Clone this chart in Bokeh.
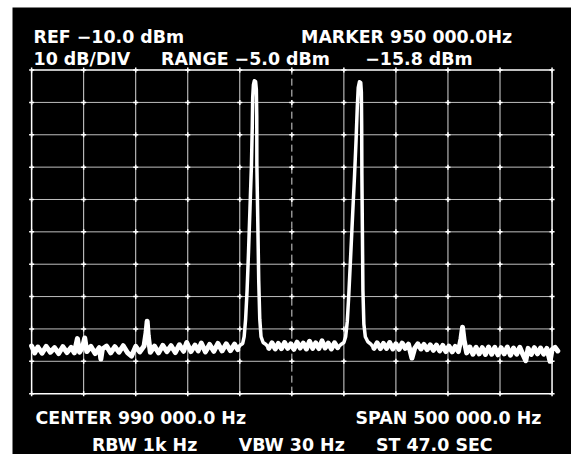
from bokeh.plotting import figure
from bokeh.embed import file_html
from bokeh.resources import INLINE
from bokeh.core.properties import value

# ---------------- data ----------------
# frequency axis: CENTER 990 kHz, SPAN 500 kHz -> 740 .. 1240 kHz, 10 divisions
grid_khz = [740, 790, 840, 890, 940, 990, 1040, 1090, 1140, 1190, 1240]
# level axis: REF -10 dBm, 10 dB/DIV, 10 divisions
grid_dbm = [-10, -20, -30, -40, -50, -60, -70, -80, -90, -100, -110]

floor_a_khz = [740, 743, 746, 750, 754, 758, 762, 766, 770, 774,
               778, 781, 784, 786, 789, 791, 793, 797, 801, 805,
               806.5, 808, 812, 816, 820, 824, 828, 832, 836, 840,
               844, 848, 850, 851, 852, 854, 858, 862, 866, 870,
               874, 878, 882, 886, 889, 893, 897, 900, 903, 907,
               911, 915, 919, 923, 927, 931, 935, 938]
floor_a_dbm = [-95.3, -97.4, -95.6, -97.5, -95.4, -97.2, -95.8, -97.6, -95.5, -97.3,
               -95.7, -97.4, -93.0, -97.2, -95.6, -92.8, -97.0, -95.4, -97.6, -95.8,
               -99.3, -96.2, -95.3, -97.4, -95.5, -97.2, -95.2, -97.3, -98.4, -95.4,
               -97.1, -95.3, -91.0, -87.6, -92.0, -97.2, -95.3, -97.4, -95.1, -97.0,
               -95.2, -97.3, -94.9, -96.9, -94.2, -97.0, -95.0, -96.8, -94.4, -97.1,
               -94.8, -96.9, -94.5, -96.8, -94.6, -96.7, -94.7, -96.4]

peak1_khz = [940.0, 942.8, 944.2, 945.6, 947.0, 948.4, 949.8, 951.2, 952.0, 952.4, 953.1,
             954.0, 955.2, 955.9, 956.3, 956.4, 957.3, 958.2, 959.2, 960.4, 962.4, 965.2]
peak1_dbm = [-95.1, -94.5, -92.4, -87.0, -78.1, -66.1, -52.7, -39.3, -27.3, -18.4, -14.5,
             -13.3, -13.6, -16.0, -24.3, -39.3, -57.2, -75.1, -87.0, -92.4, -94.2, -94.8]

floor_b_khz = [968, 971, 974, 977, 980, 983, 986, 989, 992, 995,
               998, 1001, 1004, 1007, 1010, 1013, 1016, 1019, 1022, 1025,
               1028, 1031, 1034]
floor_b_dbm = [-96.0, -94.3, -96.2, -94.5, -96.1, -94.2, -96.0, -94.6, -96.3, -94.1,
               -95.9, -94.4, -96.2, -93.8, -96.0, -94.3, -96.1, -93.7, -95.9, -94.4,
               -96.2, -94.3, -95.8]

peak2_khz = [1037.2, 1040.0, 1041.7, 1043.3, 1044.7, 1046.5, 1048.4, 1050.3, 1051.7, 1052.9, 1053.8,
             1055.0, 1056.2, 1056.8, 1057.1, 1057.3, 1057.8, 1058.3, 1059.2, 1060.6, 1062.9, 1066.2]
peak2_dbm = [-94.8, -94.2, -92.4, -87.6, -79.6, -67.6, -54.8, -42.2, -31.8, -21.3, -15.4,
             -13.6, -13.9, -16.9, -27.3, -42.2, -60.1, -78.1, -88.5, -92.4, -93.9, -94.8]

floor_c_khz = [1069, 1072, 1075, 1078, 1081, 1084, 1087, 1090, 1093, 1096,
               1099, 1102, 1105.4, 1108, 1111, 1114, 1117, 1120, 1123, 1126,
               1129, 1132, 1135, 1138, 1141, 1144, 1147, 1150, 1152.5, 1154,
               1155.5, 1158, 1161, 1164, 1167, 1170, 1173, 1176, 1179, 1182,
               1185, 1188, 1191, 1194, 1197, 1200, 1203, 1206, 1209, 1212,
               1214.8, 1217, 1220, 1223, 1226, 1229, 1232, 1235, 1238.1, 1240,
               1243, 1245.5]
floor_c_dbm = [-96.0, -94.3, -96.1, -94.5, -96.0, -94.2, -96.2, -94.6, -96.3, -94.4,
               -96.0, -94.7, -99.0, -96.0, -94.6, -96.2, -94.8, -96.4, -94.9, -96.6,
               -95.0, -96.8, -95.1, -97.0, -95.3, -97.1, -95.4, -97.0, -93.0, -89.5,
               -93.5, -97.4, -95.6, -97.8, -95.7, -97.7, -95.8, -97.9, -95.6, -97.8,
               -95.7, -98.0, -95.8, -97.7, -95.6, -98.1, -95.9, -97.8, -95.7, -97.9,
               -99.8, -96.0, -97.9, -95.8, -97.7, -95.9, -97.8, -96.0, -100.0, -96.4,
               -95.7, -96.8]

header_texts = ["REF \u221210.0 dBm", "MARKER 950 000.0Hz",
                "10 dB/DIV", "RANGE \u22125.0 dBm", "\u221215.8 dBm"]
footer_texts = ["CENTER 990 000.0 Hz", "SPAN 500 000.0 Hz",
                "RBW 1k Hz", "VBW 30 Hz", "ST 47.0 SEC"]

# ---------------- layout ----------------
# reference picture is 587 x 470; the figure is drawn at 571 x 454 and
# everything is laid out in reference pixels, scaled into the figure.
REF_W, REF_H = 587, 470
W, H = 571, 454
SX, SY = W / REF_W, H / REF_H
BORDER_L, BORDER_T = 12, 7                 # white strip (figure pixels)
GRID_L, GRID_R, GRID_T, GRID_B = 32, 567, 72, 407   # reference pixels

kpp = (grid_khz[-1] - grid_khz[0]) / (GRID_R - GRID_L)
dpp = (grid_dbm[0] - grid_dbm[-1]) / (GRID_B - GRID_T)


def px_x(X):
    return grid_khz[0] + (X - GRID_L) * kpp


def px_y(Y):
    return grid_dbm[0] - (Y - GRID_T) * dpp


p = figure(width=W, height=H,
           x_range=(px_x(BORDER_L / SX), px_x(REF_W)),
           y_range=(px_y(REF_H), px_y(BORDER_T / SY)),
           x_axis_type=None, y_axis_type=None,
           output_backend="svg", toolbar_location=None,
           min_border_left=BORDER_L, min_border_right=0,
           min_border_top=BORDER_T, min_border_bottom=0)
p.outline_line_color = None
p.background_fill_color = "black"
p.border_fill_color = "white"
p.grid.visible = False

x0, x1 = grid_khz[0], grid_khz[-1]
y0, y1 = grid_dbm[0], grid_dbm[-1]

# inner graticule
center_khz = grid_khz[5]
inner_v = [g for g in grid_khz[1:-1] if g != center_khz]
p.segment(x0=inner_v, y0=[y1] * len(inner_v), x1=inner_v, y1=[y0] * len(inner_v),
          line_color="white", line_width=1, line_alpha=0.85)
p.segment(x0=[center_khz], y0=[y1], x1=[center_khz], y1=[y0],
          line_color="white", line_width=1, line_alpha=0.85, line_dash="7 4")
inner_h = grid_dbm[1:-1]
p.segment(x0=[x0] * len(inner_h), y0=inner_h, x1=[x1] * len(inner_h), y1=inner_h,
          line_color="white", line_width=1, line_alpha=0.75)
# outer border
p.segment(x0=[x0, x0, x0, x1], y0=[y0, y1, y0, y0],
          x1=[x1, x1, x0, x1], y1=[y0, y1, y1, y1],
          line_color="white", line_width=1.5)
# intersection marks
cx = [gx for gx in grid_khz for gy in grid_dbm]
cy = [gy for gx in grid_khz for gy in grid_dbm]
p.scatter(cx, cy, marker="cross", size=5, line_color="white", line_width=1.5)

# trace
tx = floor_a_khz + peak1_khz + floor_b_khz + peak2_khz + floor_c_khz
ty = floor_a_dbm + peak1_dbm + floor_b_dbm + peak2_dbm + floor_c_dbm
p.line(tx, ty, line_color="white", line_width=3.5, line_join="round", line_cap="round")
# the noise floor reads as a thicker, fuzzier band
p.multi_line(xs=[floor_a_khz, floor_b_khz, floor_c_khz],
             ys=[floor_a_dbm, floor_b_dbm, floor_c_dbm],
             line_color="white", line_width=5, line_join="round", line_cap="round")

# texts (reference pixels: left edge, baseline)
hx = [34, 309, 34, 165, 375]
hy = [38, 38, 61, 61, 61]
fx = [36, 365, 94, 245, 386]
fy = [432, 432, 460, 460, 460]
font_px = "%.1fpx" % (18 * SY)
p.text(x=[px_x(v) for v in hx], y=[px_y(v) for v in hy], text=header_texts,
       text_color="white", text_font=value("DejaVu Sans"), text_font_style="bold",
       text_font_size=font_px, text_baseline="alphabetic", text_align="left")
p.text(x=[px_x(v) for v in fx], y=[px_y(v) for v in fy], text=footer_texts,
       text_color="white", text_font=value("DejaVu Sans"), text_font_style="bold",
       text_font_size=font_px, text_baseline="alphabetic", text_align="left")

open("out.html", "w").write(file_html(p, INLINE))
